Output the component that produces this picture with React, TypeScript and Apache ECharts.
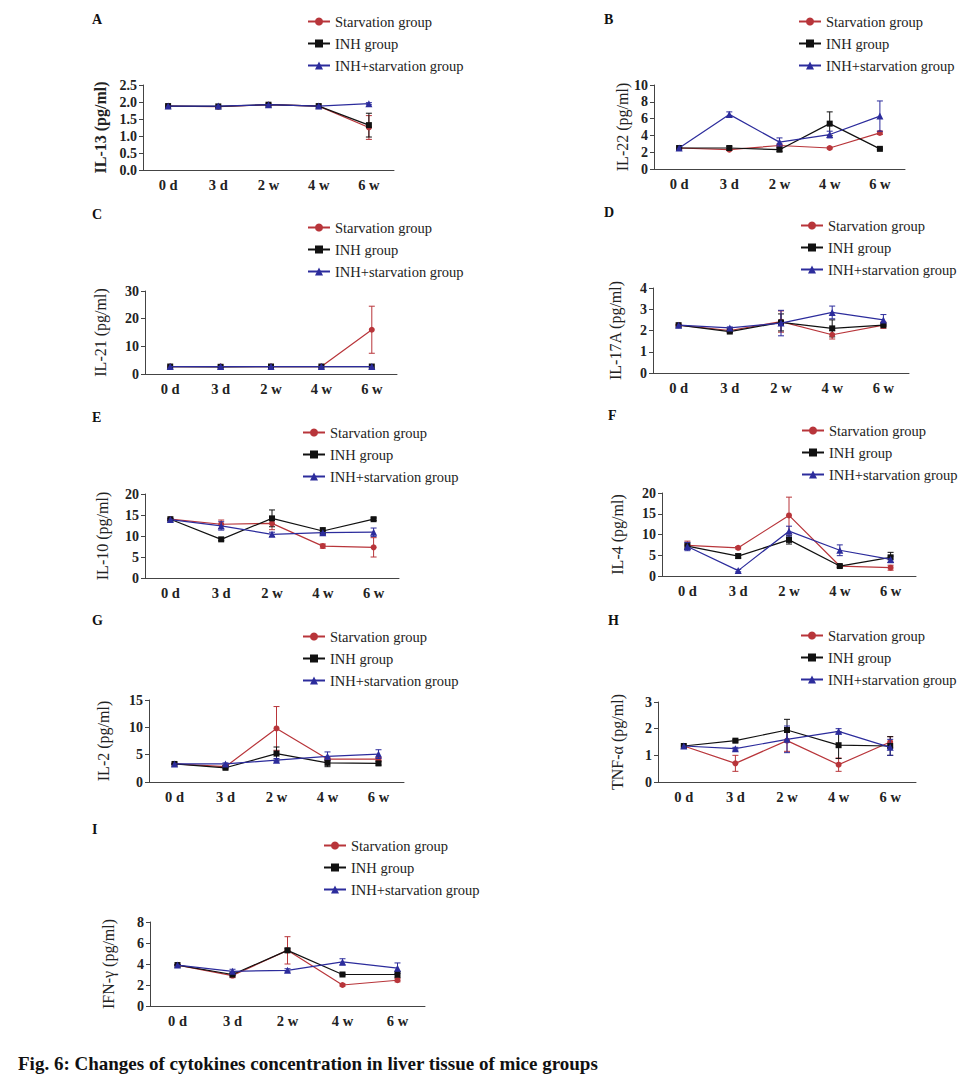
import React, { useEffect, useRef } from "react";
import * as echarts from "echarts";

const categories = ["0 d", "3 d", "2 w", "4 w", "6 w"];
const groupNames = ["Starvation group", "INH group", "INH+starvation group"];

// A: IL-13
const il13Starv = [1.88, 1.86, 1.92, 1.88, 1.25];
const il13Inh = [1.88, 1.87, 1.92, 1.88, 1.32];
const il13Combo = [1.88, 1.88, 1.92, 1.88, 1.95];
const il13StarvSd = [0, 0, 0, 0, 0.35];
const il13InhSd = [0, 0.02, 0.02, 0.02, 0.35];
const il13ComboSd = [0, 0, 0, 0, 0.03];
// B: IL-22
const il22Starv = [2.5, 2.3, 2.8, 2.5, 4.3];
const il22Inh = [2.5, 2.5, 2.3, 5.4, 2.4];
const il22Combo = [2.5, 6.5, 3.2, 4.1, 6.3];
const il22StarvSd = [0.1, 0.1, 0.2, 0.1, 0.2];
const il22InhSd = [0.1, 0.2, 0.2, 1.4, 0.1];
const il22ComboSd = [0.1, 0.3, 0.5, 0.4, 1.8];
// C: IL-21
const il21Starv = [2.7, 2.7, 2.7, 2.7, 16.0];
const il21Inh = [2.7, 2.6, 2.7, 2.7, 2.7];
const il21Combo = [2.7, 2.7, 2.7, 2.7, 2.7];
const il21StarvSd = [0, 0, 0, 0, 8.5];
const il21InhSd = [0, 0, 0, 0, 0];
const il21ComboSd = [0, 0, 0, 0, 0];
// D: IL-17A
const il17Starv = [2.25, 2.0, 2.42, 1.8, 2.25];
const il17Inh = [2.25, 1.95, 2.38, 2.1, 2.25];
const il17Combo = [2.25, 2.12, 2.35, 2.85, 2.5];
const il17StarvSd = [0.03, 0.1, 0.5, 0.2, 0.15];
const il17InhSd = [0, 0.05, 0.4, 0.4, 0.05];
const il17ComboSd = [0, 0.05, 0.6, 0.3, 0.25];
// E: IL-10
const il10Starv = [14.0, 12.8, 13.0, 7.6, 7.3];
const il10Inh = [14.0, 9.2, 14.2, 11.2, 14.0];
const il10Combo = [13.9, 12.4, 10.4, 10.8, 10.9];
const il10StarvSd = [0.2, 1, 1.5, 0.5, 2.3];
const il10InhSd = [0.2, 0.3, 2, 0.8, 0.3];
const il10ComboSd = [0.2, 1, 0.5, 0.5, 1];
// F: IL-4
const il4Starv = [7.4, 6.8, 14.6, 2.4, 2.0];
const il4Inh = [7.2, 4.8, 8.7, 2.4, 4.5];
const il4Combo = [7.1, 1.3, 10.8, 6.2, 4.0];
const il4StarvSd = [1, 0.3, 4.4, 0.3, 0.6];
const il4InhSd = [0.8, 0.5, 1, 0.3, 1.2];
const il4ComboSd = [1, 0.3, 1.2, 1.3, 0.8];
// G: IL-2
const il2Starv = [3.3, 2.8, 9.8, 4.2, 4.2];
const il2Inh = [3.3, 2.6, 5.2, 3.5, 3.4];
const il2Combo = [3.3, 3.3, 4.0, 4.7, 5.1];
const il2StarvSd = [0.1, 0.2, 4, 0.3, 0.3];
const il2InhSd = [0.1, 0.2, 1.2, 0.7, 0.3];
const il2ComboSd = [0.1, 0.2, 0.3, 0.8, 0.8];
// H: TNF-α
const tnfStarv = [1.35, 0.7, 1.55, 0.65, 1.5];
const tnfInh = [1.35, 1.55, 1.95, 1.38, 1.35];
const tnfCombo = [1.35, 1.25, 1.6, 1.9, 1.3];
const tnfStarvSd = [0, 0.3, 0.4, 0.25, 0.2];
const tnfInhSd = [0, 0.05, 0.4, 0.5, 0.35];
const tnfComboSd = [0, 0.05, 0.5, 0.1, 0.3];
// I: IFN-γ
const ifnStarv = [3.9, 2.9, 5.3, 2.0, 2.45];
const ifnInh = [3.9, 3.0, 5.3, 3.0, 3.0];
const ifnCombo = [3.9, 3.3, 3.4, 4.2, 3.6];
const ifnStarvSd = [0.05, 0.2, 1.3, 0.1, 0.15];
const ifnInhSd = [0.05, 0.1, 0.2, 0.05, 0.3];
const ifnComboSd = [0.05, 0.2, 0.15, 0.3, 0.5];

const yMax = [2.5, 10, 30, 4, 20, 20, 15, 3, 8];
const yInterval = [0.5, 2, 10, 1, 5, 5, 5, 1, 2];
const yNames = [
  "IL-13 (pg/ml)", "IL-22 (pg/ml)", "IL-21 (pg/ml)", "IL-17A (pg/ml)", "IL-10 (pg/ml)",
  "IL-4 (pg/ml)", "IL-2 (pg/ml)", "TNF-α (pg/ml)", "IFN-γ (pg/ml)",
];
const panelLetters = ["A", "B", "C", "D", "E", "F", "G", "H", "I"];
const caption = "Fig. 6: Changes of cytokines concentration in liver tissue of mice groups";

const panelValues = [
  [il13Starv, il13Inh, il13Combo], [il22Starv, il22Inh, il22Combo], [il21Starv, il21Inh, il21Combo],
  [il17Starv, il17Inh, il17Combo], [il10Starv, il10Inh, il10Combo], [il4Starv, il4Inh, il4Combo],
  [il2Starv, il2Inh, il2Combo], [tnfStarv, tnfInh, tnfCombo], [ifnStarv, ifnInh, ifnCombo],
];
const panelSd = [
  [il13StarvSd, il13InhSd, il13ComboSd], [il22StarvSd, il22InhSd, il22ComboSd], [il21StarvSd, il21InhSd, il21ComboSd],
  [il17StarvSd, il17InhSd, il17ComboSd], [il10StarvSd, il10InhSd, il10ComboSd], [il4StarvSd, il4InhSd, il4ComboSd],
  [il2StarvSd, il2InhSd, il2ComboSd], [tnfStarvSd, tnfInhSd, tnfComboSd], [ifnStarvSd, ifnInhSd, ifnComboSd],
];

// layout (pixels)
const grids = [
  { left: 143, top: 85, width: 251, height: 85 },
  { left: 654, top: 85, width: 251, height: 84 },
  { left: 145, top: 291, width: 252, height: 83 },
  { left: 653, top: 288, width: 256, height: 85 },
  { left: 145, top: 494, width: 254, height: 84 },
  { left: 662, top: 493, width: 254, height: 83 },
  { left: 149, top: 700, width: 255, height: 82 },
  { left: 658, top: 702, width: 258, height: 80 },
  { left: 150, top: 922, width: 275, height: 84 },
];
const nameGaps = [35, 23, 37, 30, 35, 37, 38, 33, 34];
const legendPos = [
  [307, 14], [798, 14], [307, 220], [800, 218], [302, 425], [801, 423], [302, 629], [800, 628], [323, 838],
];
const letterPos = [
  [92, 12], [604, 12], [92, 207], [604, 205], [92, 410], [608, 408], [92, 613], [608, 613], [92, 822],
];

const colors = ["#b8353a", "#111111", "#2c2c9c"];
const symbols = ["circle", "rect", "triangle"];
const symbolSizes = [6, 6, 7];
const serif = "'Liberation Serif', 'Times New Roman', serif";

export default function App() {
  const ref = useRef<HTMLDivElement>(null);
  useEffect(() => {
    if (!ref.current) return;
    const chart = echarts.init(ref.current, undefined, { renderer: "svg" });
    const series: any[] = [];
    panelValues.forEach((vals, p) => {
      vals.forEach((arr, g) => {
        series.push({
          type: "line",
          name: groupNames[g],
          xAxisIndex: p,
          yAxisIndex: p,
          data: arr,
          symbol: symbols[g],
          symbolSize: symbolSizes[g],
          lineStyle: { color: colors[g], width: 1.2 },
          itemStyle: { color: colors[g] },
          z: 3 + g,
        });
        const errData = arr
          .map((v, i) => [i, v - panelSd[p][g][i], v + panelSd[p][g][i], panelSd[p][g][i]])
          .filter((d) => d[3] > 0);
        series.push({
          type: "custom",
          name: "err" + p + "_" + g,
          xAxisIndex: p,
          yAxisIndex: p,
          data: errData,
          encode: { x: 0, y: [1, 2] },
          z: 2 + g,
          renderItem: (params: any, api: any) => {
            const x = api.value(0);
            const top = api.coord([x, api.value(2)]);
            const bot = api.coord([x, api.value(1)]);
            const w = 3;
            const style = { stroke: colors[g], lineWidth: 1 };
            return {
              type: "group",
              children: [
                { type: "line", shape: { x1: top[0], y1: top[1], x2: bot[0], y2: bot[1] }, style },
                { type: "line", shape: { x1: top[0] - w, y1: top[1], x2: top[0] + w, y2: top[1] }, style },
                { type: "line", shape: { x1: bot[0] - w, y1: bot[1], x2: bot[0] + w, y2: bot[1] }, style },
              ],
            };
          },
        });
      });
    });

    const graphic: any[] = panelLetters.map((l, i) => ({
      type: "text",
      left: letterPos[i][0],
      top: letterPos[i][1],
      style: { text: l, font: `bold 14px ${serif}`, fill: "#111" },
    }));
    graphic.push({
      type: "text",
      left: 18,
      top: 1054,
      style: { text: caption, font: `bold 19px ${serif}`, fill: "#111" },
    });

    chart.setOption({
      animation: false,
      backgroundColor: "#fff",
      grid: grids.map((g) => ({ ...g, containLabel: false })),
      xAxis: grids.map((_, i) => ({
        type: "category",
        gridIndex: i,
        data: categories,
        boundaryGap: true,
        axisLine: { lineStyle: { color: "#444", width: 1 } },
        axisTick: { alignWithLabel: true, length: 4, lineStyle: { color: "#444" } },
        axisLabel: { fontFamily: serif, fontWeight: "bold", fontSize: 14.5, color: "#222", margin: 7 },
        splitLine: { show: false },
      })),
      yAxis: grids.map((_, i) => ({
        type: "value",
        gridIndex: i,
        min: 0,
        max: yMax[i],
        interval: yInterval[i],
        axisLine: { show: true, lineStyle: { color: "#444", width: 1 } },
        axisTick: { show: true, length: 4, lineStyle: { color: "#444" } },
        axisLabel: {
          fontFamily: serif,
          fontWeight: "bold",
          fontSize: 14,
          color: "#222",
          margin: 6,
          formatter: i === 0 ? (v: number) => v.toFixed(1) : undefined,
        },
        splitLine: { show: false },
        name: yNames[i],
        nameLocation: "middle",
        nameGap: nameGaps[i],
        nameTextStyle: {
          fontFamily: serif,
          fontSize: 16,
          fontWeight: i === 0 ? "bold" : "normal",
          color: "#222",
        },
      })),
      legend: legendPos.map((pos) => ({
        orient: "vertical",
        left: pos[0],
        top: pos[1],
        itemWidth: 22,
        itemHeight: 10,
        itemGap: 7,
        padding: 0,
        selectedMode: false,
        data: groupNames,
        textStyle: { fontFamily: serif, fontSize: 14.5, color: "#222", lineHeight: 15 },
      })),
      graphic,
      series,
    });
    return () => chart.dispose();
  }, []);
  return (
    <div
      ref={ref}
      style={{ position: "absolute", left: 0, top: 0, width: 969, height: 1084, background: "#fff" }}
    />
  );
}
